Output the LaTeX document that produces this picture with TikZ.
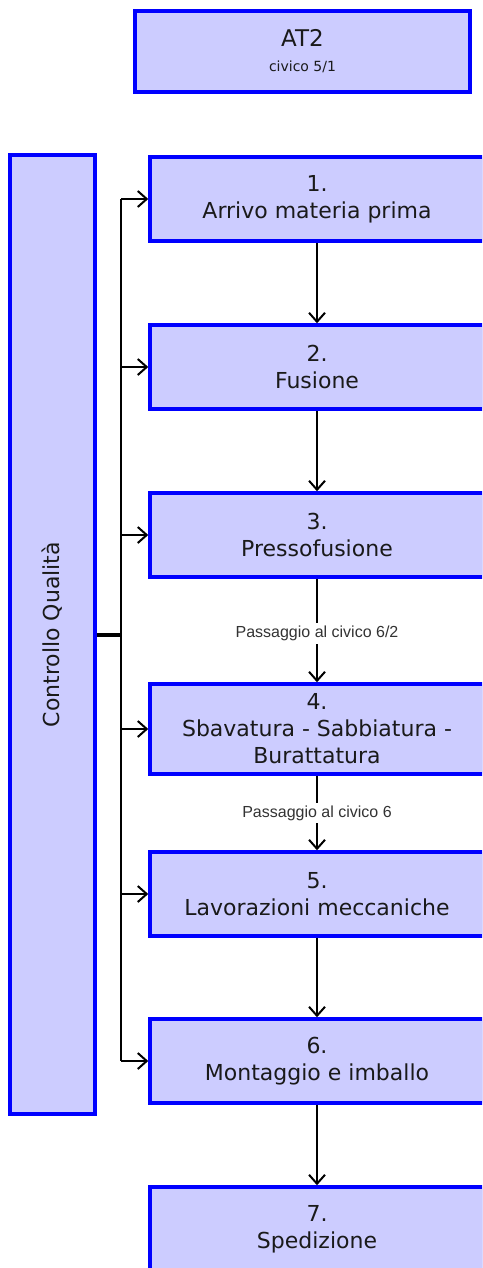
\documentclass[tikz,border=0pt]{standalone}
\usepackage{fontspec}
\setmainfont{DejaVu Sans}
\newfontfamily\labelfont{Liberation Sans}
\usetikzlibrary{arrows.meta}
\definecolor{boxfill}{HTML}{CCCCFF}
\definecolor{boxline}{HTML}{0000FF}
\definecolor{txt}{HTML}{1A1A1A}
\tikzset{
  stepbox/.style={draw=boxline, fill=boxfill, line width=3.5pt, minimum width=334pt,
    minimum height=84pt, inner sep=0pt, align=center, text=txt,
    font=\fontsize{22pt}{27pt}\selectfont},
  flow/.style={draw=black, line width=2pt, -{Straight Barb[length=9pt,width=16pt,line width=2pt]}},
  passlabel/.style={fill=white, inner sep=3pt, text=black!80,
    font=\labelfont\fontsize{16pt}{18pt}\selectfont},
}
\begin{document}
\begin{tikzpicture}[x=1pt,y=-1pt]
\clip (0,0) rectangle (482,1268);
\fill[white] (0,0) rectangle (482,1268);
% top box
\node[stepbox, minimum width=335pt, minimum height=81pt] (at2) at (302.5,51.5)
  {{\fontsize{23pt}{25pt}\selectfont AT2}\\[-2pt]{\fontsize{14pt}{16pt}\selectfont civico 5/1}};
% quality box
\node[stepbox, minimum width=85pt, minimum height=959pt] (qc) at (52.5,634.5) {};
\node[rotate=90, text=txt, font=\fontsize{22pt}{26pt}\selectfont] (qct) at (qc.center) {Controllo Qualità};
% step boxes
\node[stepbox] (s1) at (317,199) {1.\\Arrivo materia prima};
\node[stepbox] (s2) at (317,367) {2.\\Fusione};
\node[stepbox] (s3) at (317,535) {3.\\Pressofusione};
\node[stepbox, minimum height=90pt] (s4) at (317,729) {4.\\Sbavatura - Sabbiatura -\\Burattatura};
\node[stepbox] (s5) at (317,894) {5.\\Lavorazioni meccaniche};
\node[stepbox] (s6) at (317,1061) {6.\\Montaggio e imballo};
\node[stepbox] (s7) at (317,1229) {7.\\Spedizione};
% bus
\coordinate (btop) at (121,199);
\coordinate (bbot) at (121,1061);
\coordinate (bmid) at (121,635);
\draw[line width=2pt] (btop) -- (bbot);
\draw[line width=3.5pt] (qc.east |- bmid) -- (bmid);
\foreach \s in {s1,s2,s3,s4,s5,s6}{
  \draw[flow] (btop |- \s.west) -- (\s.west);
}
% vertical flow
\draw[flow] (s1) -- (s2);
\draw[flow] (s2) -- (s3);
\draw[flow] (s3) -- node[passlabel, pos=0.53] (l1) {Passaggio al civico 6/2} (s4);
\draw[flow] (s4) -- node[passlabel] (l2) {Passaggio al civico 6} (s5);
\draw[flow] (s5) -- (s6);
\draw[flow] (s6) -- (s7);
\end{tikzpicture}
\end{document}
